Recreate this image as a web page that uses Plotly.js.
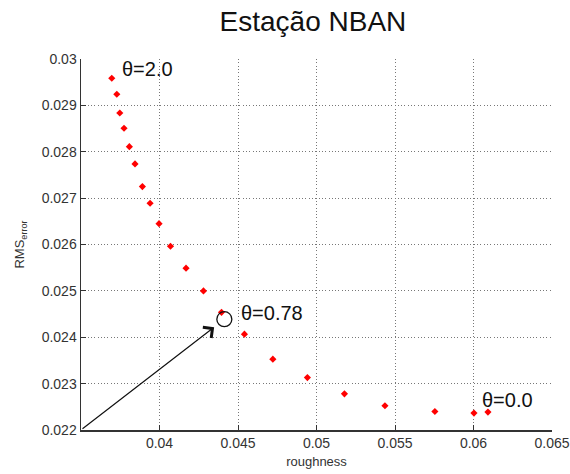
<!DOCTYPE html>
<html>
<head>
<meta charset="utf-8">
<script src="https://cdn.plot.ly/plotly-3.0.1.min.js"></script>
<style>html,body{margin:0;padding:0;background:#fff;}#chart{width:570px;height:474px;}</style>
</head>
<body>
<div id="chart"></div>
<script>
// Data
const roughness = [0.03696,0.03728,0.03747,0.03774,0.03808,0.03844,0.03891,0.03940,0.03997,0.04070,0.04169,0.04280,0.04395,0.04541,0.04722,0.04942,0.05178,0.05436,0.05754,0.06003,0.06092];
const rmsError  = [0.029584,0.029239,0.028836,0.028506,0.02811,0.027737,0.027248,0.02689,0.02645,0.025963,0.025489,0.025,0.024537,0.024067,0.023528,0.023131,0.02278,0.022522,0.022399,0.022364,0.022386];

const xTicks = [0.035,0.04,0.045,0.05,0.055,0.06,0.065];
const xTickText = ['','0.04','0.045','0.05','0.055','0.06','0.065'];
const yTicks = [0.022,0.023,0.024,0.025,0.026,0.027,0.028,0.029,0.03];
const yTickText = ['0.022','0.023','0.024','0.025','0.026','0.027','0.028','0.029','0.03'];

const labelText = ['θ=2.0','θ=0.78','θ=0.0'];
const labelX = [0.03749,0.04507,0.06043];
const labelY = [0.029784,0.024526,0.02265];

const circleX = [0.04413];
const circleY = [0.02439];

const arrowFromX = 0.035, arrowFromY = 0.022;
const arrowToX = 0.04348, arrowToY = 0.024218;

const FONT = 'Arial, Liberation Sans, sans-serif';

const traces = [
  {x: roughness, y: rmsError, type: 'scatter', mode: 'markers',
   marker: {symbol: 'diamond', size: 5.5, color: '#ff0000'}, hoverinfo: 'x+y'},
  {x: circleX, y: circleY, type: 'scatter', mode: 'markers',
   marker: {symbol: 'circle-open', size: 15, color: '#111', line: {width: 1.3, color: '#111'}}}
];

const annotations = labelText.map((t, i) => ({
  x: labelX[i], y: labelY[i], xref: 'x', yref: 'y', text: t, showarrow: false,
  xanchor: 'left', yanchor: 'middle', font: {family: FONT, size: 20, color: '#111'}
}));
annotations.push({
  x: arrowToX, y: arrowToY, ax: arrowFromX, ay: arrowFromY, axref: 'x', ayref: 'y',
  xref: 'x', yref: 'y', text: '', showarrow: true, arrowhead: 4, arrowsize: 2.2, arrowwidth: 1.2, arrowcolor: '#111', standoff: 0
});

const axisCommon = {
  showline: true, linecolor: '#333', linewidth: 1.5,
  ticks: 'inside', ticklen: 5, tickcolor: '#333', tickwidth: 1,
  showgrid: true, gridcolor: '#777', griddash: '1px,2.3px', gridwidth: 1,
  zeroline: false, tickfont: {family: FONT, size: 14, color: '#333'},
  tickmode: 'array'
};

const layout = {
  width: 570, height: 474,
  margin: {l: 81, r: 18, t: 59, b: 44},
  paper_bgcolor: '#fff', plot_bgcolor: '#fff',
  showlegend: false,
  title: {text: 'Estação NBAN', x: 0.549, xref: 'container', xanchor: 'center', y: 0.956, yref: 'container', yanchor: 'middle',
          font: {family: FONT, size: 28, color: '#111'}},
  xaxis: Object.assign({}, axisCommon, {range: [0.035, 0.065], tickvals: xTicks, ticktext: xTickText,
    title: {text: 'roughness', standoff: 6, font: {family: FONT, size: 13, color: '#333'}}}),
  yaxis: Object.assign({}, axisCommon, {range: [0.022, 0.03], tickvals: yTicks, ticktext: yTickText,
    title: {text: 'RMS<sub>error</sub>', standoff: 14, font: {family: FONT, size: 13, color: '#333'}}}),
  annotations: annotations
};

Plotly.newPlot('chart', traces, layout, {displayModeBar: false, staticPlot: true});
</script>
</body>
</html>
